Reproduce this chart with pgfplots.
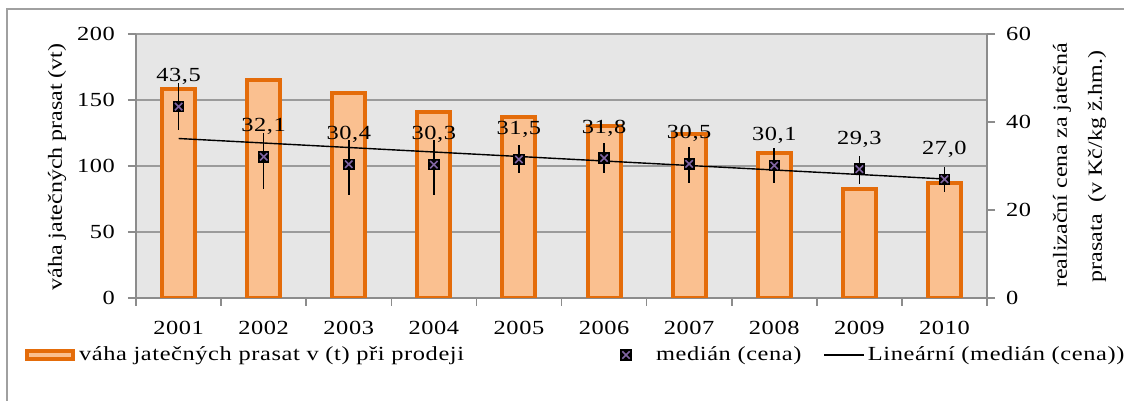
\documentclass[border=0pt]{standalone}
\usepackage{fontspec}
\setmainfont{Liberation Serif}[FakeStretch=1.22, LetterSpace=3]
\newfontfamily\labelfont{Liberation Serif}[FakeStretch=1.2]
\usepackage{pgfplots}
\usepackage{pgfplotstable}
\pgfplotsset{compat=1.18}
\definecolor{barfill}{RGB}{250,192,144}
\definecolor{barline}{RGB}{228,108,10}
\definecolor{plotbg}{RGB}{230,230,230}
\definecolor{gridc}{RGB}{155,155,155}
\definecolor{axisc}{RGB}{140,140,140}
\definecolor{purp}{RGB}{128,100,162}
\definecolor{framec}{RGB}{160,160,160}

\pgfplotstableread{
x w
1 158
2 165
3 155.5
4 140.7
5 137.4
6 130.3
7 124
8 110
9 82.8
10 86.9
}\weight

\pgfplotstableread{
x y ep em lab
1 43.5 5.4 5.3 {43,5}
2 32.1 5.4 7.3 {32,1}
3 30.4 5.5 7.0 {30,4}
4 30.3 5.6 6.9 {30,3}
5 31.5 3.3 3.2 {31,5}
6 31.8 3.4 3.5 {31,8}
7 30.5 3.9 4.3 {30,5}
8 30.1 3.9 3.9 {30,1}
9 29.3 3.0 3.5 {29,3}
10 27.0 2.8 2.8 {27,0}
}\median

\pgfplotstableread{
x y
1 36.25
10 27.05
}\trend

\pgfplotsset{
  base/.style={
    scale only axis, width=425.5pt, height=132pt,
    at={(68pt,51.5pt)}, anchor=south west,
    xmin=0.5, xmax=10.5,
    tick align=outside,
    major tick length=4pt,
    axis line style={axisc, line width=0.8pt, -},
    every tick/.style={axisc, line width=0.8pt},
    /pgf/number format/assume math mode=true,
    tick label style={font=\fontsize{10}{12}\selectfont},
  }
}

\begin{document}
\begin{tikzpicture}
\useasboundingbox (0,0) rectangle (562pt,200.5pt);
\draw[framec, line width=0.6pt] (3.5pt,-2pt) -- (3.5pt,196pt) -- (566pt,196pt);

\begin{axis}[base,
  ymin=0, ymax=200, ytick={0,50,100,150,200},
  axis background/.style={fill=plotbg},
  ymajorgrids, grid style={gridc, line width=0.7pt},
  axis x line*=bottom, axis y line*=left,
  xtick={1,...,10},
  xticklabels={2001,2002,2003,2004,2005,2006,2007,2008,2009,2010},
  major x tick style={draw=none},
  minor xtick={0.5,1.5,...,10.5},
  minor tick length=4pt,
  minor x tick style={axisc, line width=0.8pt},
  xticklabel style={yshift=-4pt},
  yticklabel style={xshift=-3pt},
]
\addplot[ybar, bar width=16.5pt, fill=barfill, draw=barline, line width=2pt] table[x=x,y=w]{\weight};
\end{axis}

\begin{axis}[base,
  ymin=0, ymax=60, ytick={0,20,40,60},
  axis y line*=right, axis x line=none,
  yticklabel style={xshift=2pt},
  legend style={at={(axis description cs:-0.1304,-0.216)}, anchor=west,
    draw=none, fill=none, inner sep=0pt, outer sep=0pt, legend columns=3,
    font=\fontsize{10}{12}\selectfont,
    nodes={inner sep=0pt},
    /tikz/column sep=0pt,
    /tikz/column 1/.style={column sep=2pt},
    /tikz/column 2/.style={column sep=77pt},
    /tikz/column 3/.style={column sep=0pt},
    /tikz/column 4/.style={column sep=11pt},
    /tikz/column 5/.style={column sep=1.5pt}},
]
\addlegendimage{legend image code/.code={\draw[fill=barfill, draw=barline, line width=2pt] (0pt,-2pt) rectangle (23pt,2pt);}}
\addlegendentry{váha jatečných prasat v (t) při prodeji}
\addlegendimage{legend image code/.code={
  \path[draw=none, fill=none] (0pt,0pt) -- (19pt,0pt);
  \pgfsetplotmarksize{2.6pt}
  \begin{scope}[shift={(4pt,0pt)}]
    \pgfsetfillcolor{black}\pgfsetstrokecolor{black}\pgfuseplotmark{square*}
    \pgfsetstrokecolor{purp}\pgfsetlinewidth{0.8pt}\pgfuseplotmark{x}
  \end{scope}}}
\addlegendentry{medián (cena)}
\addlegendimage{legend image code/.code={\draw[black, line width=0.7pt] (0pt,0pt) -- (20pt,0pt);}}
\addlegendentry{Lineární (medián (cena))}

\addplot[black, line width=0.7pt, no marks, forget plot] table[x=x,y=y]{\trend};
\addplot[only marks, mark=square*, mark size=2.6pt, black, forget plot,
  error bars/.cd, y dir=both, y explicit, error mark=none,
  error bar style={black, line width=0.8pt}]
  table[x=x, y=y, y error plus=ep, y error minus=em]{\median};
\addplot[only marks, mark=x, mark size=2.6pt, purp, line width=0.8pt, forget plot,
  nodes near coords, point meta=explicit symbolic,
  every node near coord/.append style={anchor=center, yshift=15pt, black,
    font=\fontsize{10}{12}\selectfont}]
  table[x=x, y=y, meta=lab]{\median};
\end{axis}

\node[rotate=90, font=\labelfont\fontsize{10}{12}\selectfont] at (28.5pt,117pt) {váha jatečných prasat (vt)};
\node[rotate=90, anchor=east, align=right, inner sep=0pt, font=\labelfont\fontsize{10}{17.5}\selectfont] at (539.75pt,179pt)
  {realizační cena za jatečná\\prasata~~(v Kč/kg ž.hm.)\hspace*{3.5pt}};
\end{tikzpicture}
\end{document}
